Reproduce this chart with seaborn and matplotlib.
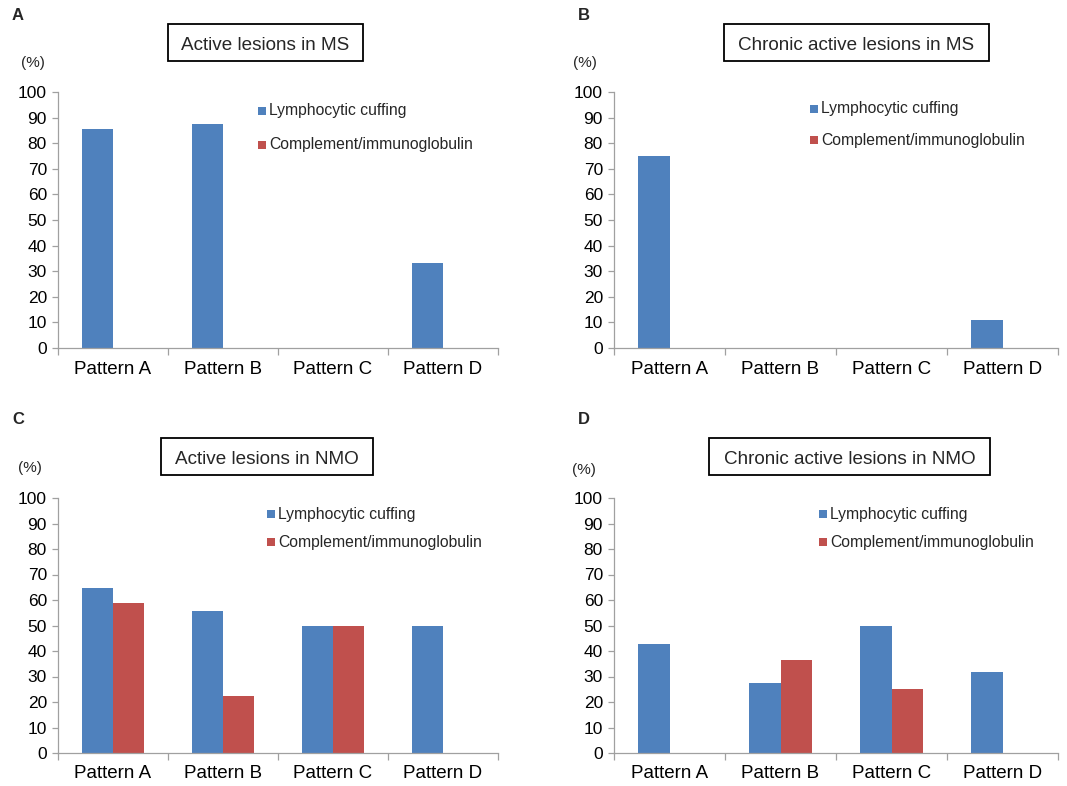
import numpy as np
import pandas as pd
import matplotlib
matplotlib.use('Agg')
import matplotlib.pyplot as plt
from matplotlib.patches import Patch, Rectangle
import seaborn as sns

# data (%)
patterns = ['Pattern A', 'Pattern B', 'Pattern C', 'Pattern D']
series_names = ['Lymphocytic cuffing', 'Complement/immunoglobulin']

ms_active_lymph = [85.7, 87.5, 0, 33.3]
ms_active_comp = [0, 0, 0, 0]
ms_chronic_lymph = [75.0, 0, 0, 11.1]
ms_chronic_comp = [0, 0, 0, 0]
nmo_active_lymph = [64.7, 55.6, 50.0, 50.0]
nmo_active_comp = [58.8, 22.2, 50.0, 0]
nmo_chronic_lymph = [42.9, 27.3, 50.0, 31.6]
nmo_chronic_comp = [0, 36.4, 25.0, 0]

panel_letters = ['A', 'B', 'C', 'D']
panel_titles = ['Active lesions in MS', 'Chronic active lesions in MS',
                'Active lesions in NMO', 'Chronic active lesions in NMO']
panel_data = [(ms_active_lymph, ms_active_comp),
              (ms_chronic_lymph, ms_chronic_comp),
              (nmo_active_lymph, nmo_active_comp),
              (nmo_chronic_lymph, nmo_chronic_comp)]

colors = ['#4F81BD', '#C0504D']

sns.set_style('ticks')
plt.rcParams['font.family'] = ['Liberation Sans', 'DejaVu Sans']

W, H = 1067, 786
fig = plt.figure(figsize=(W / 100, H / 100), dpi=100)

def fx(px):
    return px / W

def fy(py):
    return 1 - py / H

# layout in pixels: axes left, right, top(100), bottom(0)
axes_px = [(58, 498, 92, 348), (614, 1058, 92, 348),
           (58, 498, 498, 753), (614, 1058, 498, 753)]
title_box_px = [(168, 363, 24, 61), (724, 989, 24, 61),
                (161, 373, 438, 475), (709, 990, 438, 475)]
title_base_px = [50, 50, 464, 464]
pct_px = [(33, 63.5), (585, 63.5), (29.5, 468), (583.5, 470)]
letter_px = [(18, 16), (584, 16), (18, 419.5), (584, 420)]
legend_px = [(258, 111, 145), (810, 109, 140), (267, 514, 542), (819, 514, 542)]

spine_col = '#A0A0A0'

for i in range(4):
    lymph, comp = panel_data[i]
    df = pd.DataFrame({
        'pattern': patterns * 2,
        'series': [series_names[0]] * 4 + [series_names[1]] * 4,
        'value': list(lymph) + list(comp),
    })
    l, r, t, b = axes_px[i]
    ax = fig.add_axes([fx(l), fy(b), (r - l) / W, (b - t) / H])
    sns.barplot(data=df, x='pattern', y='value', hue='series', order=patterns,
                hue_order=series_names, palette=colors, saturation=1,
                width=0.57, errorbar=None, linewidth=0, legend=False, ax=ax)

    ax.set_xlim(-0.5, 3.5)
    ax.set_ylim(0, 100)
    ax.set_yticks(np.arange(0, 101, 10))
    ax.set_xlabel('')
    ax.set_ylabel('')
    sns.despine(ax=ax)
    for s in ['left', 'bottom']:
        ax.spines[s].set_color(spine_col)
        ax.spines[s].set_linewidth(0.9)
    ax.tick_params(axis='y', length=4.5, width=0.9, color=spine_col,
                   labelsize=12.5, pad=3.5, labelcolor='black')
    ax.tick_params(axis='x', which='major', length=0, labelsize=13.5, pad=9,
                   labelcolor='black')
    ax.set_xticks(np.arange(-0.5, 4, 1), minor=True)
    ax.tick_params(axis='x', which='minor', length=5, width=0.9, color=spine_col)

    # legend
    lx, ly1, ly2 = legend_px[i]
    for k in range(2):
        yy = ly1 if k == 0 else ly2
        fig.add_artist(Rectangle((fx(lx), fy(yy + 4)), 8 / W, 8 / H,
                                 facecolor=colors[k], edgecolor='none',
                                 transform=fig.transFigure))
        fig.text(fx(lx + 11), fy(yy), series_names[k], fontsize=11.3,
                 ha='left', va='center')

    # boxed title
    x0, x1, y0, y1 = title_box_px[i]
    fig.add_artist(Rectangle((fx(x0), fy(y1)), (x1 - x0) / W, (y1 - y0) / H,
                             facecolor='white', edgecolor='black', linewidth=1.3,
                             transform=fig.transFigure))
    fig.text(fx((x0 + x1) / 2), fy(title_base_px[i]), panel_titles[i],
             fontsize=13.6, ha='center', va='baseline')

    px, py = pct_px[i]
    fig.text(fx(px), fy(py), '(%)', fontsize=11, ha='center', va='center')
    qx, qy = letter_px[i]
    fig.text(fx(qx), fy(qy), panel_letters[i], fontsize=12, fontweight='bold',
             ha='center', va='center')

fig.savefig('out.png', dpi=100)
